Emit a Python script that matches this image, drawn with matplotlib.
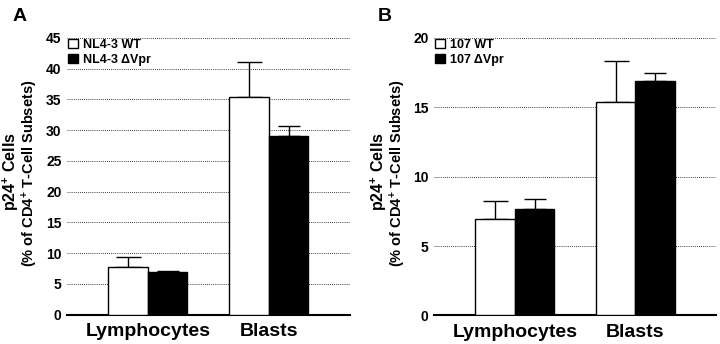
import matplotlib
matplotlib.use("Agg")
import matplotlib.pyplot as plt
import numpy as np

plt.rcParams['font.family'] = ['Liberation Sans', 'DejaVu Sans']
plt.rcParams['mathtext.fontset'] = 'custom'
plt.rcParams['mathtext.rm'] = 'Liberation Sans'
plt.rcParams['mathtext.bf'] = 'Liberation Sans:bold'
plt.rcParams['mathtext.default'] = 'bf'

# data
groups = ["Lymphocytes", "Blasts"]

a_labels = ["NL4-3 WT", "NL4-3 \u0394Vpr"]
a_wt = [7.7, 35.4]
a_wt_err = [1.7, 5.7]
a_dvpr = [7.0, 29.1]
a_dvpr_err = [0.1, 1.6]
a_ticks = [0, 5, 10, 15, 20, 25, 30, 35, 40, 45]

b_labels = ["107 WT", "107 \u0394Vpr"]
b_wt = [6.95, 15.35]
b_wt_err = [1.3, 3.0]
b_dvpr = [7.7, 16.9]
b_dvpr_err = [0.7, 0.55]
b_ticks = [0, 5, 10, 15, 20]

ylabel1 = r"p24$^{+}$ Cells"
ylabel2 = r"(% of CD4$^{+}$ T-Cell Subsets)"

fig = plt.figure(figsize=(7.2, 3.44), dpi=100)
axA = fig.add_axes([0.093, 0.085, 0.393, 0.805])
axB = fig.add_axes([0.603, 0.083, 0.392, 0.807])

w = 0.327
x = np.arange(len(groups))


def panel(ax, wt, wt_err, dv, dv_err, labels, ticks, letter, lx, lab_x):
    b1 = ax.bar(x - w / 2, wt, w, color='white', edgecolor='black', linewidth=1.0,
                label=labels[0], zorder=3)
    b2 = ax.bar(x + w / 2, dv, w, color='black', edgecolor='black', linewidth=1.0,
                label=labels[1], zorder=3)
    ax.errorbar(x - w / 2, wt, yerr=[np.zeros(len(wt)), wt_err], fmt='none',
                ecolor='black', elinewidth=1.0, capsize=9, capthick=1.0, zorder=2)
    ax.errorbar(x + w / 2, dv, yerr=[np.zeros(len(dv)), dv_err], fmt='none',
                ecolor='black', elinewidth=1.0, capsize=8, capthick=1.0, zorder=2)
    ax.set_xlim(-0.669, 1.671)
    ax.set_ylim(0, ticks[-1])
    ax.set_yticks(ticks)
    ax.set_yticklabels([str(t) for t in ticks], fontsize=10, fontweight='bold')
    ax.set_xticks(x)
    ax.set_xticklabels(groups, fontsize=14, fontweight='bold')
    ax.tick_params(axis='both', length=0)
    ax.tick_params(axis='y', pad=4)
    ax.tick_params(axis='x', pad=6)
    for s in ['left', 'right', 'top']:
        ax.spines[s].set_visible(False)
    ax.spines['bottom'].set_linewidth(1.5)
    for t in ticks[1:]:
        ax.axhline(t, color='black', linestyle=(0, (1, 1.5)), linewidth=0.6, zorder=1)
    ax.legend(handles=[b1, b2], loc='upper left', bbox_to_anchor=(0.0, 1.0),
              frameon=False, handlelength=0.75, handleheight=0.75,
              handletextpad=0.4, labelspacing=0.25, borderaxespad=0.0,
              borderpad=0.1, prop={'weight': 'bold', 'size': 9})
    fig.text(lx, 0.953, letter, fontsize=14, fontweight='bold', ha='left', va='center')
    fig.text(lab_x, 0.50, ylabel1, rotation=90, fontsize=11.5, fontweight='bold',
             ha='center', va='center')
    fig.text(lab_x + 0.026, 0.495, ylabel2, rotation=90, fontsize=10.5, fontweight='bold',
             ha='center', va='center')


panel(axA, a_wt, a_wt_err, a_dvpr, a_dvpr_err, a_labels, a_ticks, "A", 0.0167, 0.0155)
panel(axB, b_wt, b_wt_err, b_dvpr, b_dvpr_err, b_labels, b_ticks, "B", 0.524, 0.526)

fig.savefig("out.png", dpi=100)
